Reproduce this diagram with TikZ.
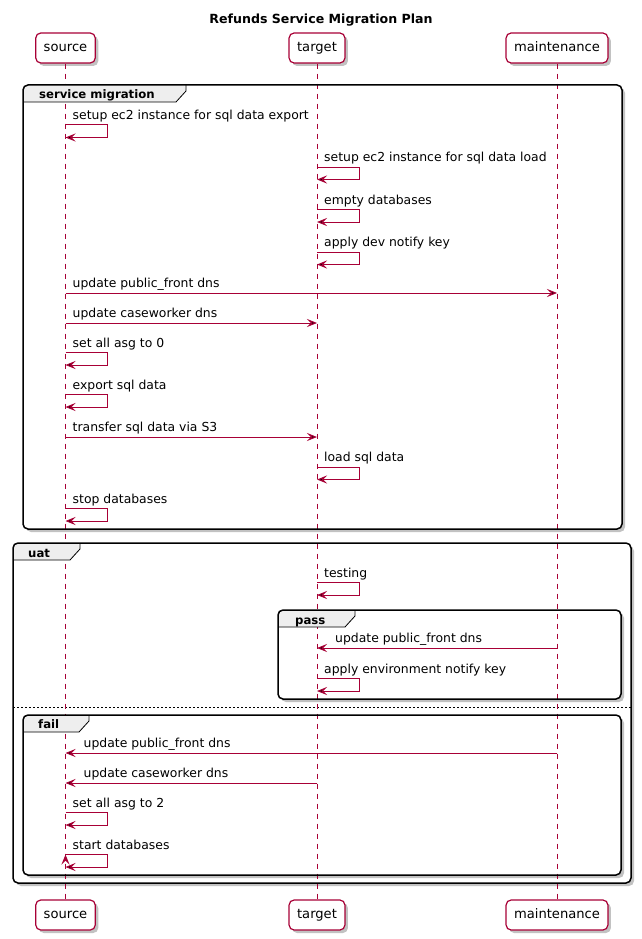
\documentclass[tikz,border=0pt]{standalone}
\usepackage{fontspec}
\setmainfont{DejaVu Sans}
\usetikzlibrary{positioning,arrows.meta,shadows}
\definecolor{plumred}{HTML}{A80036}
\definecolor{tabgray}{HTML}{EEEEEE}

\begin{document}
\begin{tikzpicture}[
	x=1pt, y=-1pt,
	on grid,
	>={Stealth[length=10pt,width=8pt,inset=4pt]},
	actor/.style={
		draw=plumred,
		line width=1.2pt,
		fill=white,
		rounded corners=5pt,
		minimum height=30pt,
		inner xsep=8pt,
		text height=9.5pt,
		text depth=2.5pt,
		font=\fontsize{13.1}{15}\selectfont,
		drop shadow={shadow xshift=3pt,shadow yshift=-3pt,fill=black!60,opacity=0.4}
	},
	lifeline/.style={draw=plumred, line width=1pt, dash pattern=on 5pt off 5pt},
	call/.style={draw=plumred, line width=1pt, ->},
	selfmsg/.style={to path={-- ++(42,0) |- (\tikztotarget)}},
	msgbase/.style={anchor=base west, inner sep=0pt, yshift=5.5pt, font=\fontsize{12.4}{14}\selectfont},
	msg/.style={msgbase, xshift=7pt},
	back/.style={msgbase, xshift=18pt},
	framebg/.style={fill=white, rounded corners=5pt,
		drop shadow={shadow xshift=3pt,shadow yshift=-3pt,fill=black!60,opacity=0.4}},
	frameline/.style={draw=black, line width=1.5pt, rounded corners=5pt},
	tabline/.style={draw=black, line width=0.8pt},
	grouplabel/.style={anchor=base west, inner sep=0pt, font=\fontsize{11.7}{14}\selectfont\bfseries}
	]
	\useasboundingbox (0,0) rectangle (641,939);

	\node[anchor=base, font=\fontsize{12.6}{15}\selectfont\bfseries] (title) at (321,24) {Refunds Service Migration Plan};

	% participants
	\node[actor] (srcTop) at (65.5,48) {source};
	\node[actor, right=251.5pt of srcTop] (tgtTop) {target};
	\node[actor, right=240pt of tgtTop] (mntTop) {maintenance};
	\node[actor, below=867pt of srcTop] (srcBot) {source};
	\node[actor, below=867pt of tgtTop] (tgtBot) {target};
	\node[actor, below=867pt of mntTop] (mntBot) {maintenance};

	% group backgrounds
	\path[framebg] (23,85) rectangle (622,529);
	\path[framebg] (13,543) rectangle (631,883);
	\path[framebg] (278,610) rectangle (621,699);
	\path[framebg] (23,715) rectangle (621,875);
	\draw[black, line width=0.6pt, dash pattern=on 2pt off 2pt] (13,707) -- (631,707);

	% lifelines
	\draw[lifeline] (srcTop.south) -- (srcBot.north);
	\draw[lifeline] (tgtTop.south) -- (tgtBot.north);
	\draw[lifeline] (mntTop.south) -- (mntBot.north);

	% group tabs
	\fill[tabgray, rounded corners=5pt] (23,102) |- (186,85) [sharp corners] -- (186,91) -- (176,102) -- cycle;
	\draw[tabline] (186,85) -- (186,91) -- (176,102) -- (23,102);
	\node[grouplabel] (smLabel) at (39,99) {service migration};
	\fill[tabgray, rounded corners=5pt] (13,560) |- (80,543) [sharp corners] -- (80,549) -- (70,560) -- cycle;
	\draw[tabline] (80,543) -- (80,549) -- (70,560) -- (13,560);
	\node[grouplabel] (uatLabel) at (28,557) {uat};
	\fill[tabgray, rounded corners=5pt] (278,627) |- (355,610) [sharp corners] -- (355,616) -- (345,627) -- cycle;
	\draw[tabline] (355,610) -- (355,616) -- (345,627) -- (278,627);
	\node[grouplabel] (passLabel) at (295,624) {pass};
	\fill[tabgray, rounded corners=5pt] (23,732) |- (89,715) [sharp corners] -- (89,721) -- (79,732) -- cycle;
	\draw[tabline] (89,715) -- (89,721) -- (79,732) -- (23,732);
	\node[grouplabel] (failLabel) at (38,728) {fail};

	\draw[frameline] (23,85) rectangle (622,529);
	\draw[frameline] (13,543) rectangle (631,883);
	\draw[frameline] (278,610) rectangle (621,699);
	\draw[frameline] (23,715) rectangle (621,875);

	% message ends
	\coordinate (c1) at (srcTop |- 0,125);    \coordinate (c1e) at (srcTop |- 0,137.5);
	\coordinate (c2) at (tgtTop |- 0,167);    \coordinate (c2e) at (tgtTop |- 0,179.5);
	\coordinate (c3) at (tgtTop |- 0,209.5);  \coordinate (c3e) at (tgtTop |- 0,222);
	\coordinate (c4) at (tgtTop |- 0,252);    \coordinate (c4e) at (tgtTop |- 0,264.5);
	\coordinate (c5) at (srcTop |- 0,293);    \coordinate (c5e) at (mntTop |- 0,293);
	\coordinate (c6) at (srcTop |- 0,323);    \coordinate (c6e) at (tgtTop |- 0,323);
	\coordinate (c7) at (srcTop |- 0,352.5);  \coordinate (c7e) at (srcTop |- 0,365);
	\coordinate (c8) at (srcTop |- 0,394.5);  \coordinate (c8e) at (srcTop |- 0,407);
	\coordinate (c9) at (srcTop |- 0,437);    \coordinate (c9e) at (tgtTop |- 0,437);
	\coordinate (c10) at (tgtTop |- 0,467);   \coordinate (c10e) at (tgtTop |- 0,479.5);
	\coordinate (c11) at (srcTop |- 0,508.5); \coordinate (c11e) at (srcTop |- 0,521);
	\coordinate (c12) at (tgtTop |- 0,582.5); \coordinate (c12e) at (tgtTop |- 0,595);
	\coordinate (c13) at (mntTop |- 0,648);   \coordinate (c13e) at (tgtTop |- 0,648);
	\coordinate (c14) at (tgtTop |- 0,678.5); \coordinate (c14e) at (tgtTop |- 0,691);
	\coordinate (c15) at (mntTop |- 0,753);   \coordinate (c15e) at (srcTop |- 0,753);
	\coordinate (c16) at (tgtTop |- 0,783);   \coordinate (c16e) at (srcTop |- 0,783);
	\coordinate (c17) at (srcTop |- 0,812.5); \coordinate (c17e) at (srcTop |- 0,825);
	\coordinate (c18) at (srcTop |- 0,854.5); \coordinate (c18e) at (srcTop |- 0,867);

	\path[call]
	 (c1) edge[selfmsg] (c1e)
	 (c2) edge[selfmsg] (c2e)
	 (c3) edge[selfmsg] (c3e)
	 (c4) edge[selfmsg] (c4e)
	 (c5) edge (c5e)
	 (c6) edge (c6e)
	 (c7) edge[selfmsg] (c7e)
	 (c8) edge[selfmsg] (c8e)
	 (c9) edge (c9e)
	 (c10) edge[selfmsg] (c10e)
	 (c11) edge[selfmsg] (c11e)
	 (c12) edge[selfmsg] (c12e)
	 (c13) edge (c13e)
	 (c14) edge[selfmsg] (c14e)
	 (c15) edge (c15e)
	 (c16) edge (c16e)
	 (c17) edge[selfmsg] (c17e)
	 (c18) edge[selfmsg] (c18e);

	% message texts
	\node[msg] (t1) at (c1) {setup ec2 instance for sql data export};
	\node[msg] (t2) at (c2) {setup ec2 instance for sql data load};
	\node[msg] (t3) at (c3) {empty databases};
	\node[msg] (t4) at (c4) {apply dev notify key};
	\node[msg] (t5) at (c5) {update public\_front dns};
	\node[msg] (t6) at (c6) {update caseworker dns};
	\node[msg] (t7) at (c7) {set all asg to 0};
	\node[msg] (t8) at (c8) {export sql data};
	\node[msg] (t9) at (c9) {transfer sql data via S3};
	\node[msg] (t10) at (c10) {load sql data};
	\node[msg] (t11) at (c11) {stop databases};
	\node[msg] (t12) at (c12) {testing};
	\node[back] (t13) at (c13e) {update public\_front dns};
	\node[msg] (t14) at (c14) {apply environment notify key};
	\node[back] (t15) at (c15e) {update public\_front dns};
	\node[back] (t16) at (c16e) {update caseworker dns};
	\node[msg] (t17) at (c17) {set all asg to 2};
	\node[msg] (t18) at (c18) {start databases};
\end{tikzpicture}
\end{document}
